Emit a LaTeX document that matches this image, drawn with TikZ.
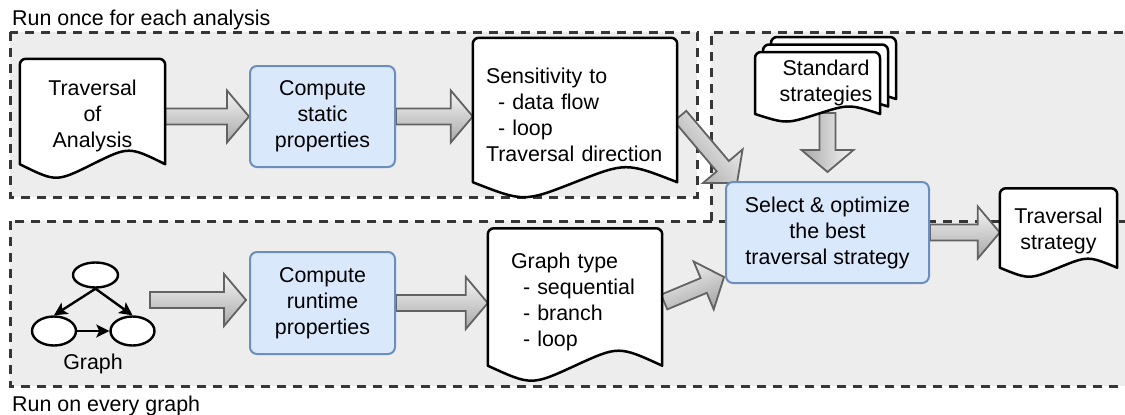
\documentclass[tikz,border=0pt]{standalone}
\usepackage{fontspec}
\setmainfont{Liberation Sans}
\usetikzlibrary{calc,shapes.geometric,arrows.meta}
\pgfdeclarelayer{back}\pgfdeclarelayer{mid}\pgfdeclarelayer{docs}
\pgfsetlayers{back,mid,docs,main}
\definecolor{regionfill}{HTML}{EDEDED}
\definecolor{regionline}{HTML}{363636}
\definecolor{bluefill}{HTML}{DAE8FC}
\definecolor{blueline}{HTML}{6C8EBF}
\definecolor{arrowline}{HTML}{626262}
\definecolor{arrowlight}{HTML}{F5F5F5}
\definecolor{arrowdark}{HTML}{A8A8A8}
\tikzset{
 txt/.style={font=\fontsize{21.4}{26}\selectfont},
 docnode/.style={txt, inner sep=0pt, align=center},
 bluebox/.style={txt, draw=blueline, fill=bluefill, line width=2pt, rounded corners=7pt, inner sep=0pt, align=center},
 docline/.style={draw=black, fill=white, line width=2.5pt, line join=round},
 regionbox/.style={draw=regionline, line width=3pt, dash pattern=on 9pt off 7pt},
 blockarrowline/.style={draw=arrowline, line width=1.8pt, line join=miter},
 gell/.style={ellipse, draw=black, fill=white, line width=2.4pt, inner sep=0pt},
 garrow/.style={draw=black, line width=2.4pt, -{Stealth[length=13pt,width=13pt,inset=3pt]}},
}
% block arrow: [shading angle]{start}{tip}
\newcommand\blkarrow[3][0]{%
 \coordinate (hb) at ($(#3)!22pt!(#2)$);
 \path[blockarrowline, top color=arrowlight, bottom color=arrowdark, shading angle=#1]
  ($(#2)!8pt!90:(#3)$) -- ($(hb)!8pt!-90:(#2)$) -- ($(hb)!26pt!-90:(#2)$) -- (#3)
  -- ($(hb)!26pt!90:(#2)$) -- ($(hb)!8pt!90:(#2)$) -- ($(#2)!8pt!-90:(#3)$) -- cycle;
}
% document outline: {NW}{SE at trough}{amplitude}
\newcommand\docoutline[3]{%
 \coordinate (dNW) at #1; \coordinate (dSE) at #2;
 \coordinate (dNE) at (dSE |- dNW); \coordinate (dSW) at (dNW |- dSE);
 \path[docline] ([yshift=#3pt]dSW) -- ([yshift=-6pt]dNW) arc[start angle=180,end angle=90,radius=6pt]
  -- ([xshift=-6pt]dNE) arc[start angle=90,end angle=0,radius=6pt]
  -- ([yshift=#3pt]dSE) .. controls ([yshift=3*#3pt]$(dSW)!0.75!(dSE)$) .. ([yshift=#3pt]$(dSW)!0.5!(dSE)$)
  .. controls ([yshift=-#3pt]$(dSW)!0.25!(dSE)$) .. ([yshift=#3pt]dSW) -- cycle;
}
\begin{document}
\begin{tikzpicture}[x=1pt,y=-1pt]
\useasboundingbox (0,0) rectangle (1125,415);
% regions
\begin{pgfonlayer}{back}
 \fill[regionfill] (10,32) rectangle (697,197);
 \fill[regionfill] (711,32) rectangle (1140,221);
 \fill[regionfill] (10,221) rectangle (1140,386);
 \draw[regionbox] (10,32) rectangle (697,197);
 \draw[regionbox] (711,221) -- (711,32) -- (1140,32);
 \draw[regionbox] (10,221) rectangle (1140,386);
\end{pgfonlayer}
\node[txt, anchor=base west, inner sep=0pt] (lab1) at (12,25) {Run once for each analysis};
\node[txt, anchor=base west, inner sep=0pt] (lab2) at (12,411) {Run on every graph};
% nodes
\node[docnode, minimum width=145pt, minimum height=114pt] (trav) at (92.5,116) {Traversal\\of\\Analysis};
\node[bluebox, minimum width=145pt, minimum height=101pt] (cstat) at (322.5,116.5) {Compute\\static\\properties};
\node[docnode, align=left, text width=178pt, minimum width=204pt, minimum height=154pt] (sens) at (575,115)
 {Sensitivity to\\\hspace*{12pt}- data flow\\\hspace*{12pt}- loop\\Traversal direction};
\node[docnode] (std) at (826,83) {Standard\\strategies};
\coordinate (stdb) at (826,113);
\node[bluebox, minimum width=203pt, minimum height=101pt] (sel) at (827.5,232.5) {Select \& optimize\\the best\\traversal strategy};
\node[docnode, minimum width=117pt, minimum height=85pt] (tstrat) at (1058.5,231) {Traversal\\strategy};
\node[gell, minimum width=45pt, minimum height=25pt] (g1) at (95.5,275) {};
\node[gell, minimum width=44pt, minimum height=29pt] (g2) at (54,331) {};
\node[gell, minimum width=44pt, minimum height=29pt] (g3) at (132.5,331) {};
\node[txt, inner sep=0pt] (glab) at (93,364) {Graph};
\coordinate (gout) at (150,300);
\node[bluebox, minimum width=145pt, minimum height=102pt] (crun) at (322.5,303) {Compute\\runtime\\properties};
\node[docnode, align=left, text width=128pt, minimum width=174pt, minimum height=147pt] (gtype) at (575,302)
 {Graph type\\\hspace*{12pt}- sequential\\\hspace*{12pt}- branch\\\hspace*{12pt}- loop};
% graph edges
\draw[garrow] (g1.south) -- (g2.north);
\draw[garrow] (g1.south) -- (g3.north);
\draw[garrow] (g2.east) -- (g3.west);
% document outlines
\begin{pgfonlayer}{docs}
 \docoutline{(trav.north west)}{(trav.south east)}{9}
 \docoutline{(sens.north west)}{(sens.south east)}{10}
 \docoutline{(gtype.north west)}{(gtype.south east)}{10}
 \docoutline{(tstrat.north west)}{(tstrat.south east)}{6}
 \docoutline{(771,37)}{(896,104)}{5}
 \docoutline{(763,44.5)}{(888,111.5)}{5}
 \docoutline{(755,52)}{(880,119)}{5}
\end{pgfonlayer}
% block arrows
\begin{pgfonlayer}{mid}
 \coordinate (a1s) at (trav.east |- cstat.west);
 \blkarrow{a1s}{cstat.west}
 \coordinate (a2e) at (cstat.east -| sens.west);
 \blkarrow{cstat.east}{a2e}
 \coordinate (a3s) at ([xshift=3pt,yshift=-1pt]sens.east);
 \coordinate (a3e) at ([xshift=12pt,yshift=-2pt]sel.north west);
 \blkarrow[-50]{a3s}{a3e}
 \coordinate (a4s) at (sel.north |- stdb);
 \coordinate (a4e) at ([yshift=9pt]sel.north);
 \blkarrow[-90]{a4s}{a4e}
 \coordinate (a5e) at (sel.east -| tstrat.west);
 \blkarrow{sel.east}{a5e}
 \coordinate (a6e) at ($(gout -| crun.west)+(-3pt,0)$);
 \blkarrow{gout}{a6e}
 \coordinate (a7e) at (crun.east -| gtype.west);
 \blkarrow{crun.east}{a7e}
 \coordinate (a8s) at ([xshift=2pt]gtype.east);
 \coordinate (a8e) at ([xshift=-1pt,yshift=7pt]sel.south west);
 \blkarrow[23]{a8s}{a8e}
\end{pgfonlayer}
\end{tikzpicture}
\end{document}
